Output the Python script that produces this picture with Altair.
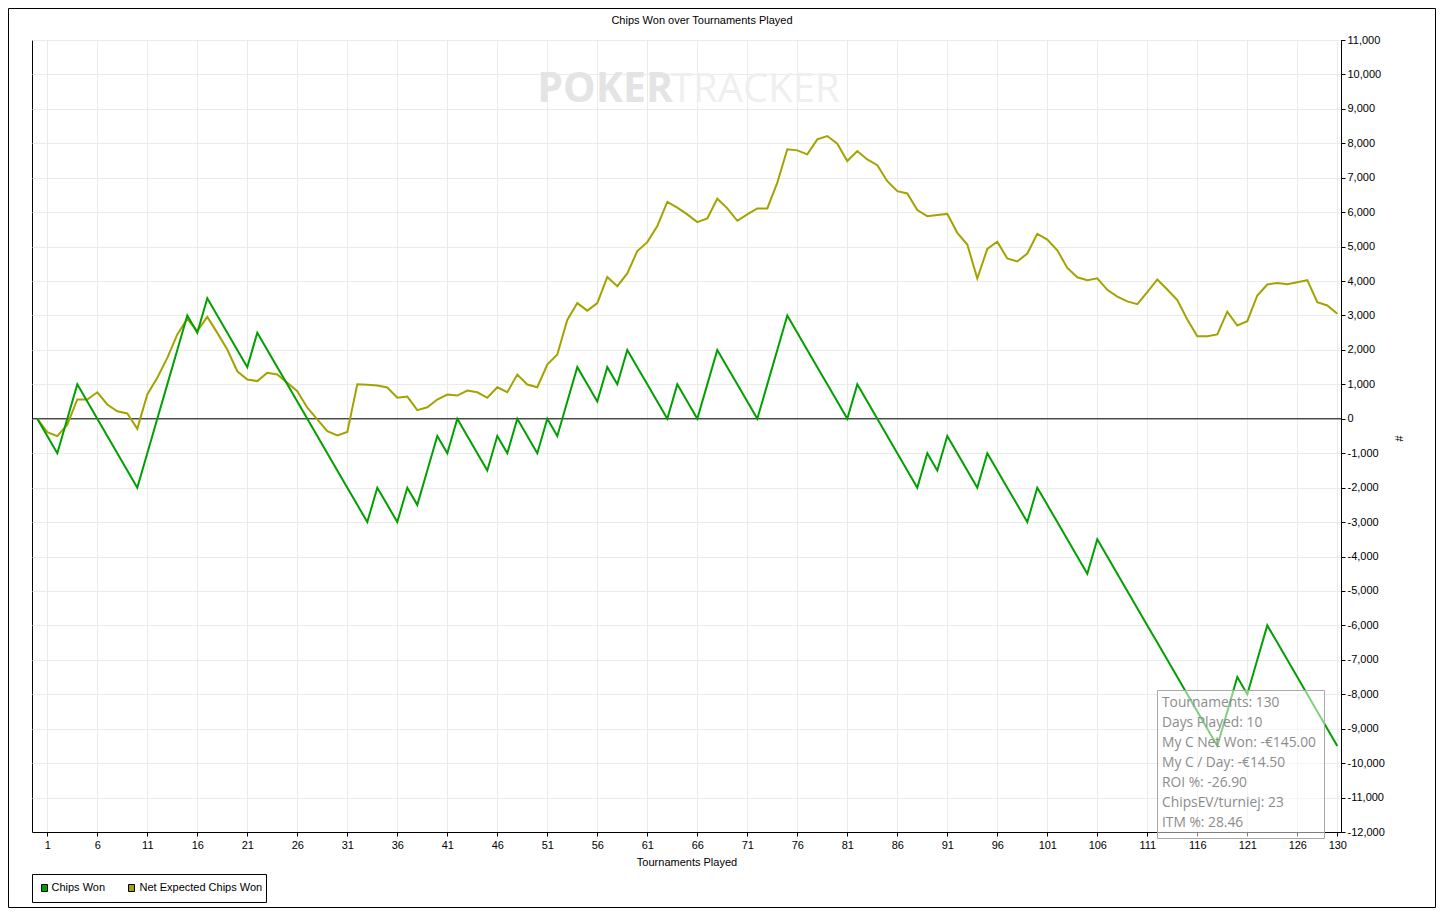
import altair as alt
import pandas as pd

# ---------------- data ----------------
tournaments = list(range(0, 131))

chips_won = [
    0, -500, -1000, 0, 1000, 500, 0, -500, -1000, -1500,
    -2000, -1000, 0, 1000, 2000, 3000, 2500, 3500, 3000, 2500,
    2000, 1500, 2500, 2000, 1500, 1000, 500, 0, -500, -1000,
    -1500, -2000, -2500, -3000, -2000, -2500, -3000, -2000, -2500, -1500,
    -500, -1000, 0, -500, -1000, -1500, -500, -1000, 0, -500,
    -1000, 0, -500, 500, 1500, 1000, 500, 1500, 1000, 2000,
    1500, 1000, 500, 0, 1000, 500, 0, 1000, 2000, 1500,
    1000, 500, 0, 1000, 2000, 3000, 2500, 2000, 1500, 1000,
    500, 0, 1000, 500, 0, -500, -1000, -1500, -2000, -1000,
    -1500, -500, -1000, -1500, -2000, -1000, -1500, -2000, -2500, -3000,
    -2000, -2500, -3000, -3500, -4000, -4500, -3500, -4000, -4500, -5000,
    -5500, -6000, -6500, -7000, -7500, -8000, -8500, -9000, -9500, -8500,
    -7500, -8000, -7000, -6000, -6500, -7000, -7500, -8000, -8500, -9000,
    -9500,
]

net_expected = [
    0, -390, -505, -170, 560, 560, 770, 415, 220, 155,
    -290, 705, 1190, 1770, 2450, 2905, 2545, 2960, 2495, 2010,
    1380, 1140, 1095, 1335, 1285, 1045, 800, 320, -20, -360,
    -485, -385, 1000, 990, 965, 910, 610, 645, 250, 335,
    560, 705, 675, 820, 770, 610, 915, 770, 1285, 995,
    915, 1575, 1865, 2870, 3360, 3140, 3360, 4115, 3850, 4220,
    4870, 5130, 5595, 6300, 6130, 5935, 5710, 5820, 6390, 6110,
    5750, 5935, 6110, 6110, 6855, 7825, 7795, 7680, 8115, 8210,
    7990, 7485, 7775, 7530, 7365, 6900, 6610, 6545, 6060, 5885,
    5920, 5950, 5400, 5060, 4075, 4935, 5140, 4655, 4570, 4800,
    5370, 5205, 4895, 4380, 4110, 4025, 4080, 3745, 3550, 3410,
    3330, 3680, 4045, 3755, 3445, 2885, 2400, 2400, 2450, 3110,
    2710, 2835, 3580, 3900, 3945, 3905, 3965, 4025, 3385, 3290,
    3050,
]

series_names = ["Chips Won", "Net Expected Chips Won"]
series_colors = ["#00a000", "#a3a300"]

x_ticks = [1, 6, 11, 16, 21, 26, 31, 36, 41, 46, 51, 56, 61, 66, 71, 76, 81,
           86, 91, 96, 101, 106, 111, 116, 121, 126, 130]
y_ticks = [-12000, -11000, -10000, -9000, -8000, -7000, -6000, -5000, -4000,
           -3000, -2000, -1000, 0, 1000, 2000, 3000, 4000, 5000, 6000, 7000,
           8000, 9000, 10000, 11000]

title_text = "Chips Won over Tournaments Played"
x_title = "Tournaments Played"
y_title = "#"
stats_lines = [
    "Tournaments: 130",
    "Days Played: 10",
    "My C Net Won: -€145.00",
    "My C / Day: -€14.50",
    "ROI %: -26.90",
    "ChipsEV/turniej: 23",
    "ITM %: 28.46",
]

df = pd.DataFrame({
    "t": tournaments + tournaments,
    "value": chips_won + net_expected,
    "series": [series_names[0]] * len(tournaments) + [series_names[1]] * len(tournaments),
})
one = pd.DataFrame({"k": [0]})
zero_df = pd.DataFrame({"value": [0]})

FONT = "Liberation Sans"
W, H = 1309, 792
PAD = {"left": 24, "top": 32, "right": 95, "bottom": 76}

x_scale = alt.Scale(domain=[-0.53, 130.37], nice=False, zero=False)
y_scale = alt.Scale(domain=[-12000, 11000], nice=False, zero=False)
color_scale = alt.Scale(domain=series_names, range=series_colors)

x_axis = alt.Axis(values=x_ticks, format="d", title=x_title, grid=True,
                  labelFlush=False, labelOverlap=False, labelPadding=3,
                  titleY=30, titleBaseline="middle")
y_axis = alt.Axis(orient="right", values=y_ticks, title=y_title, grid=True,
                  labelExpr="replace(format(datum.value, ','), '\u2212', '-')",
                  labelFlush=False, labelOverlap=False, labelPadding=2,
                  titleAngle=90, titleX=56, titleY=398, titleBaseline="middle",
                  titleAlign="center")

X = alt.X("t:Q", scale=x_scale, axis=x_axis)
Y = alt.Y("value:Q", scale=y_scale, axis=y_axis)

base = alt.Chart(df).encode(
    x=X, y=Y,
    stroke=alt.Stroke("series:N", scale=color_scale, legend=None),
)

olive_line = base.transform_filter(alt.datum.series == series_names[1]).mark_line(
    strokeWidth=2, clip=True)
green_line = base.transform_filter(alt.datum.series == series_names[0]).mark_line(
    strokeWidth=2, clip=True)

zero_rule = alt.Chart(zero_df).mark_rule(color="black", strokeWidth=1).encode(y=Y)

# ---- legend box (bottom-left, below the plot) ----
legend_box = alt.Chart(one).mark_rect(
    fill="white", stroke="black", strokeWidth=1).encode(
    x=alt.value(0.5), x2=alt.value(234.5), y=alt.value(834.5), y2=alt.value(862.5))
legend_sym_x = [9.5, 96.5]
legend_lab_x = [19.5, 107.5]
legend_layers = []
for i, name in enumerate(series_names):
    legend_layers.append(alt.Chart(one).mark_rect(
        fill=series_colors[i], stroke="black", strokeWidth=1).encode(
        x=alt.value(legend_sym_x[i]), x2=alt.value(legend_sym_x[i] + 6),
        y=alt.value(844.5), y2=alt.value(851.5)))
    legend_layers.append(alt.Chart(one).mark_text(
        text=name, font=FONT, fontSize=11, align="left", baseline="middle",
        color="black").encode(x=alt.value(legend_lab_x[i]), y=alt.value(848)))

title_mark = alt.Chart(one).mark_text(
    text=title_text, font=FONT, fontSize=11, align="center", baseline="middle",
    color="black").encode(x=alt.value(670), y=alt.value(-19))

wm_poker = alt.Chart(one).mark_text(
    text="POKER", font="Open Sans", fontSize=41, fontWeight="bold",
    align="right", baseline="middle", color="#e4e4e4").encode(
    x=alt.value(641), y=alt.value(50))
wm_tracker = alt.Chart(one).mark_text(
    text="TRACKER", font="Open Sans", fontSize=40, fontWeight="normal",
    align="left", baseline="middle", color="#efefef").encode(
    x=alt.value(639), y=alt.value(50))

stats_box = alt.Chart(one).mark_rect(
    fill="white", fillOpacity=0.5, stroke="#a8a8a8", strokeWidth=1).encode(
    x=alt.value(1125.5), x2=alt.value(1292.5), y=alt.value(650.5), y2=alt.value(798.5))
stats_text = alt.Chart(one).mark_text(
    text="\n".join(stats_lines), lineBreak="\n", lineHeight=20,
    font="Open Sans", fontSize=13.8, align="left", baseline="top",
    color="#8c8c8c").encode(x=alt.value(1130), y=alt.value(656))

outer_border = alt.Chart(one).mark_rect(
    fillOpacity=0, fill="white", stroke="black", strokeWidth=1).encode(
    x=alt.value(-23.5), x2=alt.value(W + PAD["right"] - 0.5),
    y=alt.value(-31.5), y2=alt.value(H + PAD["bottom"] - 0.5))

chart = alt.layer(
    outer_border, wm_poker, wm_tracker, zero_rule, olive_line, green_line,
    stats_box, stats_text, title_mark, legend_box, *legend_layers,
).properties(
    width=W, height=H,
    autosize=alt.AutoSizeParams(type="none"),
    padding=PAD,
    background="white",
).configure_view(
    stroke="black", strokeWidth=1,
).configure_axis(
    labelFont=FONT, titleFont=FONT, labelFontSize=11, titleFontSize=11,
    titleFontWeight="normal", labelColor="black", titleColor="black",
    domainColor="black", tickColor="black", tickSize=4, gridColor="#ebebeb",
    gridWidth=1,
)

chart.save("out.html", embed_options={"renderer": "svg", "actions": False})
